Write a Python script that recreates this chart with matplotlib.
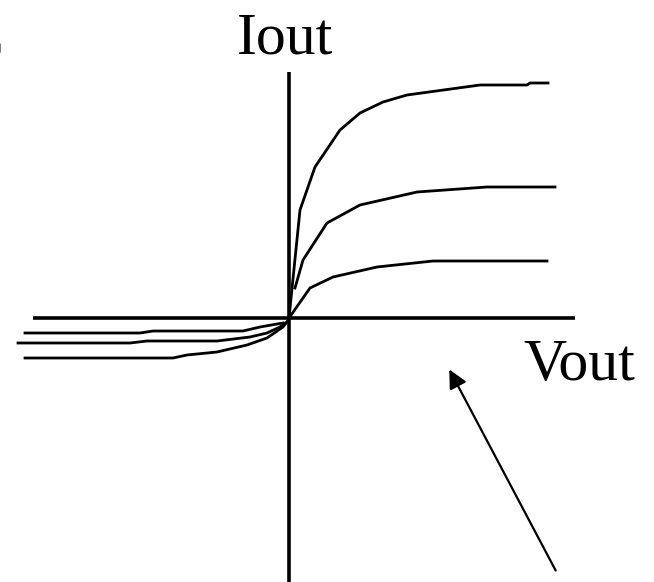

# sketch of output current vs output voltage for a few bias levels
import numpy as np
import matplotlib
matplotlib.use("Agg")
import matplotlib.pyplot as plt

#########
# DATA (arbitrary units, origin at the axes crossing)
#########

# positive Vout branch, one curve per bias level
vout_high = [0, 11, 26, 51, 71, 94, 118, 191, 238, 241, 259]
iout_high = [0, 108, 151, 188, 205, 216, 223, 233, 233, 235, 235]

vout_mid = [6, 14, 38, 71, 128, 198, 266]
iout_mid = [30, 58, 95, 113, 126, 131, 131]

vout_low = [0, 21, 44, 88, 144, 258]
iout_low = [0, 30, 41, 51, 57, 57]

# negative Vout branch
vout_neg_a = [-264, -149, -136, -46, -29, -12, -6]
iout_neg_a = [-15, -15, -13, -13, -9, -6, -5]

vout_neg_b = [-271, -159, -142, -72, -39, -22, -9, -2]
iout_neg_b = [-25, -25, -23, -23, -19, -15, -9, -4]

vout_neg_c = [-264, -116, -102, -72, -42, -22, -6, 1]
iout_neg_c = [-40, -40, -37, -34, -27, -20, -9, 0]

#########
# PLOT
#########

plt.rcParams['font.family'] = ['Liberation Serif', 'DejaVu Serif']

fig = plt.figure(figsize=(6.54, 5.82), dpi=100)
ax = fig.add_axes([0, 0, 1, 1])
ax.set_xlim(-289, 654 - 289)
ax.set_ylim(318 - 582, 318)
ax.axis('off')

# axes lines
ax.plot([-256, 286], [0, 0], color='black', lw=2.6, solid_capstyle='butt')
ax.plot([0, 0], [-264, 246], color='black', lw=2.6, solid_capstyle='butt')

curves = [
    (vout_high, iout_high), (vout_mid, iout_mid), (vout_low, iout_low),
    (vout_neg_a, iout_neg_a), (vout_neg_b, iout_neg_b), (vout_neg_c, iout_neg_c),
]
for xs, ys in curves:
    ax.plot(xs, ys, color='black', lw=2.0, solid_joinstyle='round')

ax.text(-52, 265, "Iout", fontsize=43, ha='left', va='baseline')
ax.text(234, -62, "Vout", fontsize=43, ha='left', va='baseline')
# clipped letter at the top left corner
ax.text(-286, 265, "C", fontsize=43, ha='right', va='baseline')

ax.annotate("", xy=(159, -49), xytext=(268, -255),
            arrowprops=dict(arrowstyle='-|>', color='black', lw=1.6,
                            mutation_scale=28))

fig.savefig("out.png", dpi=100)
